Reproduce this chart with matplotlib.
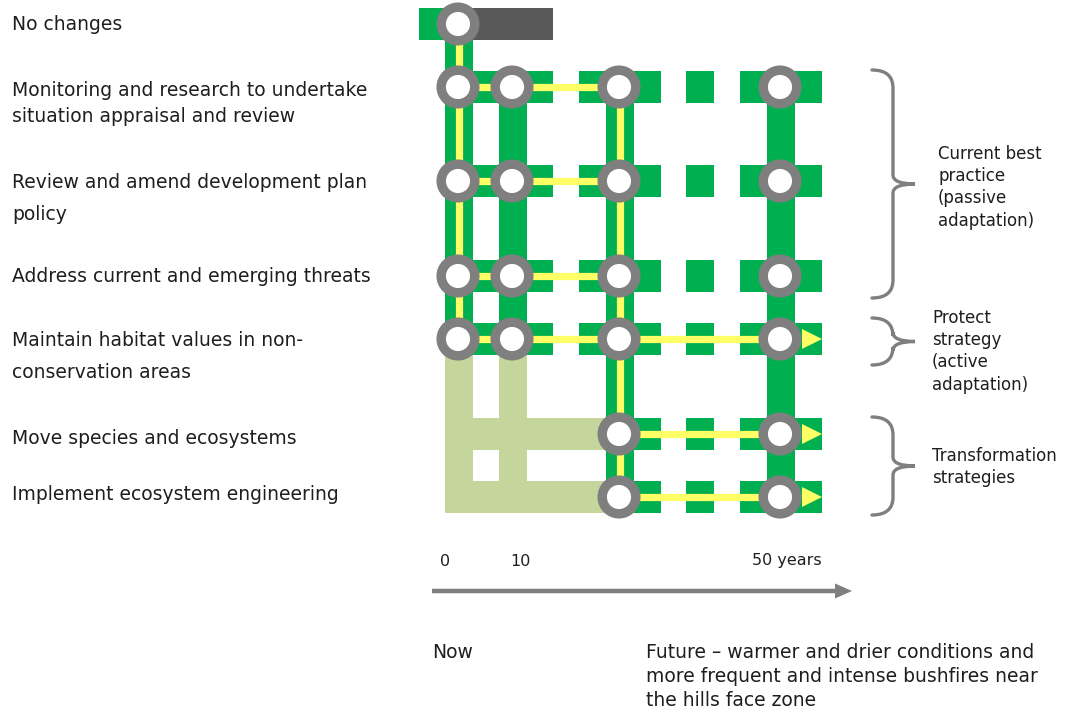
import numpy as np
import matplotlib.pyplot as plt
from matplotlib.patches import Rectangle, Circle, Polygon, PathPatch
from matplotlib.path import Path

# strategies (left labels) and where their row sits on the chart
strategies = ["No changes",
              "Monitoring and research to undertake\nsituation appraisal and review",
              "Review and amend development plan\npolicy",
              "Address current and emerging threats",
              "Maintain habitat values in non-\nconservation areas",
              "Move species and ecosystems",
              "Implement ecosystem engineering"]
row_y = [24, 87, 181, 276, 339, 434, 497]
label_y = [24, 91, 183, 277, 340, 438, 494]
label_gap = [0, 25, 31, 0, 32, 0, 0]

# decision points along the time axis (pixel positions of the columns)
col_x = [459, 513, 620, 700, 781]

# nodes: (row, col)
nodes = [(0, 0),
         (1, 0), (1, 1), (1, 2), (1, 4),
         (2, 0), (2, 1), (2, 2), (2, 4),
         (3, 0), (3, 1), (3, 2), (3, 4),
         (4, 0), (4, 1), (4, 2), (4, 4),
         (5, 2), (5, 4),
         (6, 2), (6, 4)]

# yellow pathways: list of (row, col) chains
paths = [[(0, 0), (4, 0)],
         [(1, 0), (1, 2)],
         [(2, 0), (2, 2)],
         [(3, 0), (3, 2)],
         [(1, 2), (6, 2)],
         [(4, 0), (4, 4)],
         [(5, 2), (5, 4)],
         [(6, 2), (6, 4)]]
arrow_rows = [4, 5, 6]

# dashed horizontal strips (x ranges) per row group
strip_full = [(445, 553), (579, 661), (686, 714), (740, 822)]
strip_late = [(606, 661), (686, 714), (740, 822)]
light_strip = (445, 606)

# vertical columns: (col, y_top, y_bottom)
green_cols = [(0, 8, 355), (1, 71, 355), (2, 71, 513), (4, 71, 513)]
light_cols = [(0, 355, 513), (1, 355, 513)]

groups = ["Current best\npractice\n(passive\nadaptation)",
          "Protect\nstrategy\n(active\nadaptation)",
          "Transformation\nstrategies"]
group_span = [(70, 298), (318, 365), (417, 515)]
group_text = [(938, 145), (932, 309), (932, 447)]

time_ticks = ["0", "10", "50 years"]
time_x = [445, 520, 787]

GREEN = "#00B050"
LIGHT = "#C4D69C"
YELLOW = "#FFFF66"
RING = "#7F7F7F"
DARK = "#595959"
TXT = "#1E1E1E"
HALF = 16

fig = plt.figure(figsize=(10.74, 7.15), dpi=100)
ax = fig.add_axes([0, 0, 1, 1])
ax.set_xlim(0, 1074)
ax.set_ylim(715, 0)
ax.axis("off")
font = "DejaVu Sans"
fs = 13.5

# light green (abandoned) part
for c, y0, y1 in light_cols:
    ax.add_patch(Rectangle((col_x[c] - 14, y0), 28, y1 - y0, color=LIGHT, lw=0))
for r in [5, 6]:
    ax.add_patch(Rectangle((light_strip[0], row_y[r] - HALF), light_strip[1] - light_strip[0], 2 * HALF,
                           color=LIGHT, lw=0))

# green strips
for r in range(1, 7):
    segs = strip_full if r <= 4 else strip_late
    for a, b in segs:
        ax.add_patch(Rectangle((a, row_y[r] - HALF), b - a, 2 * HALF, color=GREEN, lw=0))
for c, y0, y1 in green_cols:
    ax.add_patch(Rectangle((col_x[c] - 14, y0), 28, y1 - y0, color=GREEN, lw=0))
ax.add_patch(Rectangle((419, row_y[0] - HALF), 51, 2 * HALF, color=GREEN, lw=0))
ax.add_patch(Rectangle((470, row_y[0] - HALF), 83, 2 * HALF, color=DARK, lw=0))

# yellow pathways
for p in paths:
    xs = [col_x[c] for r, c in p]
    ys = [row_y[r] for r, c in p]
    ax.plot(xs, ys, color=YELLOW, lw=5.2, solid_capstyle="butt", zorder=3)
for r in arrow_rows:
    y = row_y[r]
    ax.add_patch(Polygon([[802, y - 10], [822, y], [802, y + 10]], closed=True, color=YELLOW, lw=0, zorder=3))

# nodes
for r, c in nodes:
    ax.add_patch(Circle((col_x[c] - 1, row_y[r]), 16.8, facecolor="white", edgecolor=RING, lw=6.8, zorder=4))

# left labels
for s, y, g in zip(strategies, label_y, label_gap):
    for i, line in enumerate(s.split("\n")):
        ax.text(12, y + i * g, line, fontsize=fs, family=font, color=TXT, va="center", ha="left")

# braces
def brace(y0, y1, x0=872, xv=893, xt=915, r=18):
    ym = (y0 + y1) / 2
    verts = [(x0, y0), (xv, y0), (xv, y0 + r),
             (xv, ym - r / 2), (xv, ym), (xt, ym),
             (xv, ym), (xv, ym + r / 2),
             (xv, y1 - r), (xv, y1), (x0, y1)]
    codes = [Path.MOVETO, Path.CURVE3, Path.CURVE3,
             Path.LINETO, Path.CURVE3, Path.CURVE3,
             Path.CURVE3, Path.CURVE3,
             Path.LINETO, Path.CURVE3, Path.CURVE3]
    ax.add_patch(PathPatch(Path(verts, codes), facecolor="none", edgecolor=RING, lw=2.4, capstyle="round"))

for (y0, y1), txt, (tx, ty) in zip(group_span, groups, group_text):
    brace(y0, y1)
    ax.text(tx, ty, txt, fontsize=12, family=font, color=TXT, va="top", ha="left", linespacing=1.3)

# time axis
for t, x in zip(time_ticks, time_x):
    ax.text(x, 561, t, fontsize=11.5, family=font, color=TXT, va="center", ha="center")
ax.arrow(432, 591, 420, 0, width=4.5, head_width=15, head_length=17, length_includes_head=True,
         color=RING, lw=0)

ax.text(432, 652, "Now", fontsize=fs, family=font, color=TXT, va="center", ha="left")
ax.text(646, 643, "Future \u2013 warmer and drier conditions and\nmore frequent and intense bushfires near\nthe hills face zone",
        fontsize=fs, family=font, color=TXT, va="top", ha="left", linespacing=1.33)

fig.savefig("out.png", dpi=100)
